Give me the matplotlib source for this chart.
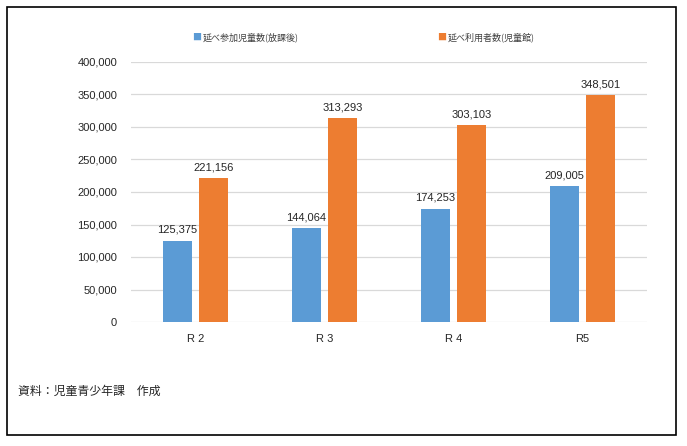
import numpy as np
import matplotlib.pyplot as plt
from matplotlib.patches import Rectangle
from matplotlib.ticker import FuncFormatter

categories = ["R 2", "R 3", "R 4", "R5"]
participants = [125375, 144064, 174253, 209005]
visitors = [221156, 313293, 303103, 348501]
series_names = ["延べ参加児童数(放課後)", "延べ利用者数(児童館)"]

jp = ['Noto Sans CJK JP', 'DejaVu Sans']
num_font = 'Liberation Sans'

fig = plt.figure(figsize=(6.87, 4.46), dpi=100)
ax = fig.add_axes([131 / 687, 1 - 322 / 446, 516 / 687, 260 / 446])

x = np.arange(len(categories))
w = 0.225
off = 0.143
b1 = ax.bar(x - off, participants, w, color='#5B9BD5', zorder=3)
b2 = ax.bar(x + off, visitors, w, color='#ED7D31', zorder=3)

for bars in (b1, b2):
    for rect in bars:
        h = rect.get_height()
        ax.text(rect.get_x() + rect.get_width() / 2, h + 9000, f"{int(h):,}",
                ha='center', va='bottom', fontsize=8, family=num_font, color='#262626')

ax.set_xlim(-0.5, 3.5)
ax.set_ylim(0, 400000)
ax.set_yticks(np.arange(0, 400001, 50000))
ax.yaxis.set_major_formatter(FuncFormatter(lambda v, p: f"{int(v):,}"))
ax.set_xticks(x)
ax.set_xticklabels(categories)
ax.grid(axis='y', color='#D9D9D9', linewidth=0.9, zorder=0)
for s in ax.spines.values():
    s.set_visible(False)
ax.tick_params(length=0, labelsize=8, colors='#262626', pad=9)
ax.tick_params(axis='y', pad=10)
for lab in ax.get_xticklabels() + ax.get_yticklabels():
    lab.set_family(num_font)

# legend
fig.text(197 / 687, 1 - 37 / 446, "■", color='#5B9BD5', fontsize=6.5,
         ha='center', va='center', family=jp)
fig.text(203 / 687, 1 - 37 / 446, series_names[0], fontsize=6.5,
         ha='left', va='center', family=jp, color='#404040')
fig.text(442 / 687, 1 - 37 / 446, "■", color='#ED7D31', fontsize=6.5,
         ha='center', va='center', family=jp)
fig.text(448 / 687, 1 - 37 / 446, series_names[1], fontsize=6.5,
         ha='left', va='center', family=jp, color='#404040')

fig.text(18 / 687, 1 - 391 / 446, "資料：児童青少年課　作成", fontsize=8.6,
         ha='left', va='center', family=jp, color='#262626')

fig.patches.append(Rectangle((7 / 687, 1 - 435 / 446), 669 / 687, 428 / 446,
                             transform=fig.transFigure, fill=False,
                             edgecolor='black', linewidth=1.2))

fig.savefig('out.png', dpi=100)
